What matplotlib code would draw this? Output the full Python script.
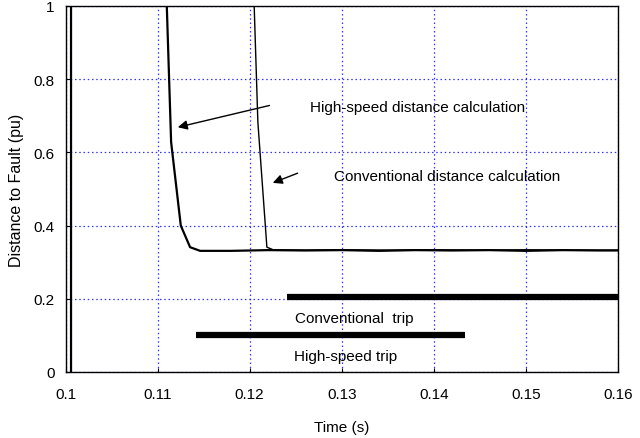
import matplotlib
matplotlib.use("Agg")
import matplotlib.pyplot as plt

plt.rcParams['font.family'] = ['Liberation Sans', 'DejaVu Sans']

# Data
t_highspeed = [0.1006, 0.1006, 0.1100, 0.1110, 0.11147, 0.11252, 0.11353, 0.11462,
               0.118, 0.122, 0.126, 0.130, 0.134, 0.138, 0.142, 0.146, 0.150, 0.154, 0.158, 0.160]
d_highspeed = [0.0, 1.3, 1.3, 1.0, 0.628, 0.400, 0.341, 0.331,
               0.331, 0.333, 0.332, 0.333, 0.331, 0.333, 0.332, 0.333, 0.331, 0.333, 0.332, 0.332]

t_conventional = [0.1204, 0.12049, 0.12089, 0.12187, 0.12255, 0.126, 0.130, 0.135,
                  0.140, 0.145, 0.150, 0.155, 0.160]
d_conventional = [1.3, 1.0, 0.683, 0.341, 0.334, 0.333, 0.334, 0.333,
                  0.334, 0.333, 0.334, 0.333, 0.333]

conv_trip_t = [0.1241, 0.1600]
conv_trip_d = [0.206, 0.206]
hs_trip_t = [0.11418, 0.14335]
hs_trip_d = [0.100, 0.100]

x_ticks = [0.1, 0.11, 0.12, 0.13, 0.14, 0.15, 0.16]
x_ticklabels = ["0.1", "0.11", "0.12", "0.13", "0.14", "0.15", "0.16"]
y_ticks = [0, 0.2, 0.4, 0.6, 0.8, 1.0]
y_ticklabels = ["0", "0.2", "0.4", "0.6", "0.8", "1"]

fig = plt.figure(figsize=(6.4, 4.39), dpi=100)
ax = fig.add_axes([65.5/640, 1-373/439, (618-65.5)/640, (373-7)/439])

ax.plot(t_highspeed, d_highspeed, color='black', lw=1.6)
ax.plot(t_conventional, d_conventional, color='black', lw=1.0)
ax.plot(conv_trip_t, conv_trip_d, color='black', lw=4.5, solid_capstyle='butt')
ax.plot(hs_trip_t, hs_trip_d, color='black', lw=4.5, solid_capstyle='butt')

ax.set_xlim(0.1, 0.16)
ax.set_ylim(0, 1)
ax.set_xticks(x_ticks)
ax.set_xticklabels(x_ticklabels)
ax.set_yticks(y_ticks)
ax.set_yticklabels(y_ticklabels)
ax.tick_params(axis='x', direction='in', length=3, labelsize=11, pad=10.5)
ax.tick_params(axis='y', direction='in', length=3, labelsize=11, pad=8)
ax.grid(True, color='blue', linestyle=(0, (1.2, 2.2)), lw=0.9, alpha=0.8)
for s in ax.spines.values():
    s.set_linewidth(1.0)

ax.set_xlabel("Time (s)", fontsize=11, labelpad=14)
ax.set_ylabel("Distance to Fault (pu)", fontsize=11.5, labelpad=7)

ax.text(0.1382, 0.724, "High-speed distance calculation", fontsize=11, ha='center', va='center')
ax.text(0.14147, 0.536, "Conventional distance calculation", fontsize=11, ha='center', va='center')
ax.text(0.13135, 0.148, "Conventional  trip", fontsize=11, ha='center', va='center')
ax.text(0.13038, 0.044, "High-speed trip", fontsize=11, ha='center', va='center')

ax.annotate("", xy=(0.1119, 0.667), xytext=(0.12245, 0.730),
            arrowprops=dict(arrowstyle='-|>', color='black', lw=1.0, mutation_scale=14))
ax.annotate("", xy=(0.12223, 0.514), xytext=(0.12549, 0.546),
            arrowprops=dict(arrowstyle='-|>', color='black', lw=1.0, mutation_scale=14))

fig.savefig("out.png", dpi=100)
